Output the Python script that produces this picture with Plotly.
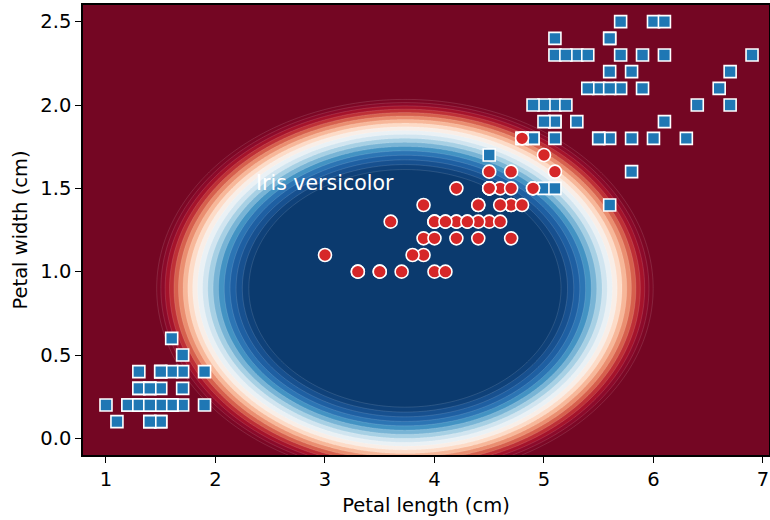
import numpy as np
import plotly.graph_objects as go

# ---- data (petal length, petal width in cm) ----
versicolor_length = [4.7, 4.5, 4.9, 4.0, 4.6, 4.5, 4.7, 3.3, 4.6, 3.9, 3.5, 4.2, 4.0, 4.7, 3.6, 4.4, 4.5, 4.1, 4.5, 3.9,
                     4.8, 4.0, 4.9, 4.7, 4.3, 4.4, 4.8, 5.0, 4.5, 3.5, 3.8, 3.7, 3.9, 5.1, 4.5, 4.5, 4.7, 4.4, 4.1, 4.0,
                     4.4, 4.6, 4.0, 3.3, 4.2, 4.2, 4.2, 4.3, 3.0, 4.1]
versicolor_width = [1.4, 1.5, 1.5, 1.3, 1.5, 1.3, 1.6, 1.0, 1.3, 1.4, 1.0, 1.5, 1.0, 1.4, 1.3, 1.4, 1.5, 1.0, 1.5, 1.1,
                    1.8, 1.3, 1.5, 1.2, 1.3, 1.4, 1.4, 1.7, 1.5, 1.0, 1.1, 1.0, 1.2, 1.6, 1.5, 1.6, 1.5, 1.3, 1.3, 1.3,
                    1.2, 1.4, 1.2, 1.0, 1.3, 1.2, 1.3, 1.3, 1.1, 1.3]
other_length = [1.4, 1.4, 1.3, 1.5, 1.4, 1.7, 1.4, 1.5, 1.4, 1.5, 1.5, 1.6, 1.4, 1.1, 1.2, 1.5, 1.3, 1.4, 1.7, 1.5,
                1.7, 1.5, 1.0, 1.7, 1.9, 1.6, 1.6, 1.5, 1.4, 1.6, 1.6, 1.5, 1.5, 1.4, 1.5, 1.2, 1.3, 1.4, 1.3, 1.5,
                1.3, 1.3, 1.3, 1.6, 1.9, 1.4, 1.6, 1.4, 1.5, 1.4,
                6.0, 5.1, 5.9, 5.6, 5.8, 6.6, 4.5, 6.3, 5.8, 6.1, 5.1, 5.3, 5.5, 5.0, 5.1, 5.3, 5.5, 6.7, 6.9, 5.0,
                5.7, 4.9, 6.7, 4.9, 5.7, 6.0, 4.8, 4.9, 5.6, 5.8, 6.1, 6.4, 5.6, 5.1, 5.6, 6.1, 5.6, 5.5, 4.8, 5.4,
                5.6, 5.1, 5.1, 5.9, 5.7, 5.2, 5.0, 5.2, 5.4, 5.1]
other_width = [0.2, 0.2, 0.2, 0.2, 0.2, 0.4, 0.3, 0.2, 0.2, 0.1, 0.2, 0.2, 0.1, 0.1, 0.2, 0.4, 0.4, 0.3, 0.3, 0.3,
               0.2, 0.4, 0.2, 0.5, 0.2, 0.2, 0.4, 0.2, 0.2, 0.2, 0.2, 0.4, 0.1, 0.2, 0.2, 0.2, 0.2, 0.1, 0.2, 0.2,
               0.3, 0.3, 0.2, 0.6, 0.4, 0.3, 0.2, 0.2, 0.2, 0.2,
               2.5, 1.9, 2.1, 1.8, 2.2, 2.1, 1.7, 1.8, 1.8, 2.5, 2.0, 1.9, 2.1, 2.0, 2.4, 2.3, 1.8, 2.2, 2.3, 1.5,
               2.3, 2.0, 2.0, 1.8, 2.1, 1.8, 1.8, 1.8, 2.1, 1.6, 1.9, 2.0, 2.2, 1.5, 1.4, 2.3, 2.4, 1.8, 1.8, 2.1,
               2.4, 2.3, 1.9, 2.3, 2.5, 2.3, 1.9, 2.0, 2.3, 1.8]

x_ticks = [1, 2, 3, 4, 5, 6, 7]
y_ticks = [0.0, 0.5, 1.0, 1.5, 2.0, 2.5]
y_tick_labels = ['0.0', '0.5', '1.0', '1.5', '2.0', '2.5']

# decision surface (elliptical)
center_length, center_width = 3.73, 0.90
scale_length, scale_width = 2.0, 1.0
level_start, level_end, n_bands = 0.508, 1.285, 18

x_min, x_max = 0.79, 7.055
y_min, y_max = -0.10, 2.60

xs = np.linspace(x_min, x_max, 600)
ys = np.linspace(y_min, y_max, 400)
X, Y = np.meshgrid(xs, ys)
Z = ((X - center_length) / scale_length) ** 2 + ((Y - center_width) / scale_width) ** 2

rdbu_r = ['#0b3a6e', '#17508f', '#2166ac', '#4393c3', '#92c5de', '#d1e5f0', '#f7f7f7',
          '#fddbc7', '#f4a582', '#d6604d', '#b2182b', '#8c0a2a', '#740623']
colorscale = [[i / (len(rdbu_r) - 1), c] for i, c in enumerate(rdbu_r)]

FONT = 'DejaVu Sans'

fig = go.Figure()
fig.add_trace(go.Contour(
    x=xs, y=ys, z=Z,
    zmin=level_start, zmax=level_end,
    colorscale=colorscale, showscale=False,
    contours=dict(start=level_start, end=level_end,
                  size=(level_end - level_start) / n_bands, coloring='fill'),
    line=dict(width=0.5, color='rgba(255,255,255,0.25)'),
    hoverinfo='skip',
))
fig.add_trace(go.Scatter(
    x=other_length, y=other_width, mode='markers',
    marker=dict(symbol='square', size=12, color='#1f77b4', line=dict(color='white', width=1.6)),
    showlegend=False,
))
fig.add_trace(go.Scatter(
    x=versicolor_length, y=versicolor_width, mode='markers',
    marker=dict(symbol='circle', size=13, color='#d62728', line=dict(color='white', width=1.6)),
    showlegend=False,
))
fig.add_annotation(x=2.35, y=1.53, text='Iris versicolor', showarrow=False,
                   xanchor='left', yanchor='middle',
                   font=dict(family=FONT, size=20.5, color='white'))

axis_common = dict(showline=True, linecolor='black', linewidth=1.5, mirror=True,
                   ticks='outside', ticklen=6, tickwidth=1.3, tickcolor='black',
                   showgrid=False, zeroline=False, automargin=False,
                   tickfont=dict(family=FONT, size=19.5, color='black'))
fig.update_xaxes(range=[x_min, x_max], tickmode='array', tickvals=x_ticks,
                 title=dict(text='Petal length (cm)', font=dict(family=FONT, size=19.5, color='black'), standoff=8),
                 **axis_common)
fig.update_yaxes(range=[y_min, y_max], tickmode='array', tickvals=y_ticks,
                 ticktext=y_tick_labels,
                 title=dict(text='Petal width (cm)', font=dict(family=FONT, size=19.5, color='black'), standoff=8),
                 **axis_common)
fig.update_layout(width=770, height=520, margin=dict(l=83, r=1, t=5, b=65),
                  plot_bgcolor='white', paper_bgcolor='white')
fig.write_html('out.html', config={'displayModeBar': False},
               post_script="document.body.style.margin='0';document.body.style.overflow='hidden';")
